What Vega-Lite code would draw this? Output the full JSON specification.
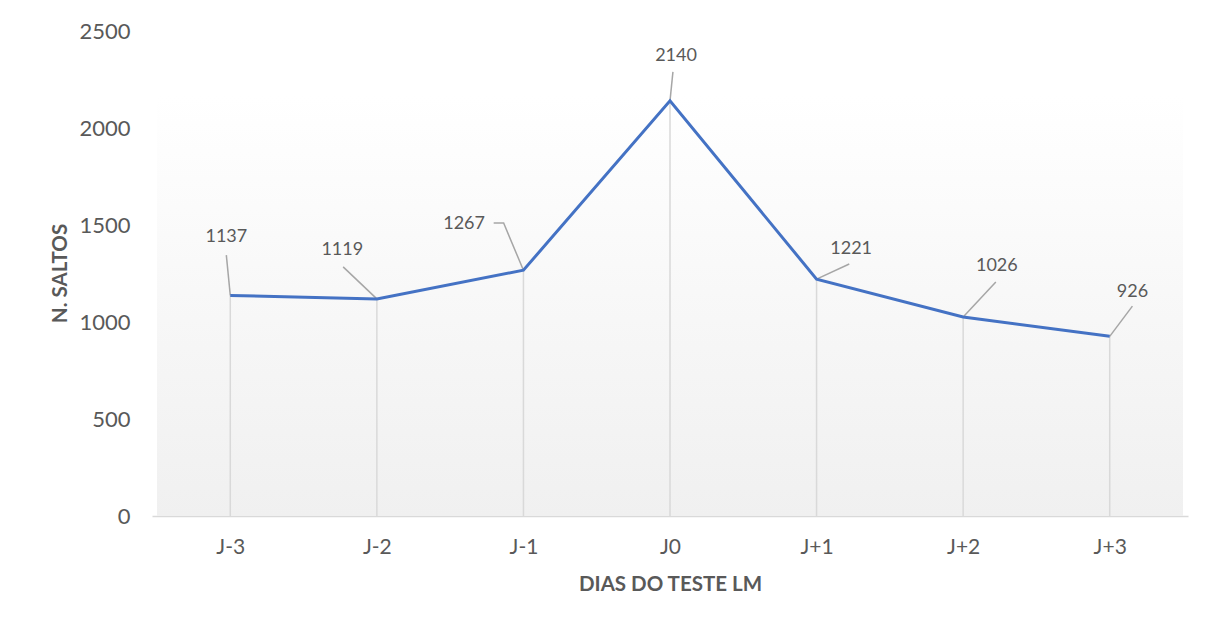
{
  "$schema": "https://vega.github.io/schema/vega-lite/v6.json",
  "autosize": "none",
  "width": 1036,
  "height": 485,
  "padding": {"left": 152, "top": 31, "right": 29, "bottom": 111},
  "background": "#ffffff",
  "config": {
    "view": {"stroke": null},
    "font": "Lato",
    "axis": {"grid": false, "ticks": false, "tickSize": 0, "labelFont": "Lato", "titleFont": "Lato", "labelColor": "#595959", "titleColor": "#595959"}
  },
  "datasets": {
    "main": [
      {"dia": "J-3", "idx": -3, "saltos": 1137},
      {"dia": "J-2", "idx": -2, "saltos": 1119},
      {"dia": "J-1", "idx": -1, "saltos": 1267},
      {"dia": "J0", "idx": 0, "saltos": 2140},
      {"dia": "J+1", "idx": 1, "saltos": 1221},
      {"dia": "J+2", "idx": 2, "saltos": 1026},
      {"dia": "J+3", "idx": 3, "saltos": 926}
    ],
    "labels": [
      {"txt": "1137", "lx": -3.027, "ly": 1438},
      {"txt": "1119", "lx": -2.236, "ly": 1371},
      {"txt": "1267", "lx": -1.405, "ly": 1505},
      {"txt": "2140", "lx": 0.041, "ly": 2371},
      {"txt": "1221", "lx": 1.236, "ly": 1376},
      {"txt": "1026", "lx": 2.230, "ly": 1289},
      {"txt": "926", "lx": 3.155, "ly": 1155}
    ],
    "leaders": [
      {"grp": "a", "ord": 1, "lx": -3.027, "ly": 1345},
      {"grp": "a", "ord": 2, "lx": -3.0, "ly": 1137},
      {"grp": "b", "ord": 1, "lx": -2.230, "ly": 1284},
      {"grp": "b", "ord": 2, "lx": -2.0, "ly": 1119},
      {"grp": "c", "ord": 1, "lx": -1.203, "ly": 1510},
      {"grp": "c", "ord": 2, "lx": -1.135, "ly": 1510},
      {"grp": "c", "ord": 3, "lx": -1.0, "ly": 1267},
      {"grp": "d", "ord": 1, "lx": 0.020, "ly": 2289},
      {"grp": "d", "ord": 2, "lx": 0.0, "ly": 2140},
      {"grp": "e", "ord": 1, "lx": 1.223, "ly": 1299},
      {"grp": "e", "ord": 2, "lx": 1.0, "ly": 1221},
      {"grp": "f", "ord": 1, "lx": 2.223, "ly": 1206},
      {"grp": "f", "ord": 2, "lx": 2.0, "ly": 1026},
      {"grp": "g", "ord": 1, "lx": 3.155, "ly": 1082},
      {"grp": "g", "ord": 2, "lx": 3.0, "ly": 926}
    ],
    "bg": [{"x0": -3.5, "x1": 3.5, "y0": 0, "y1": 2170}]
  },
  "layer": [
    {
      "data": {"name": "bg"},
      "mark": {
        "type": "rect",
        "color": {
          "gradient": "linear", "x1": 0, "y1": 0, "x2": 0, "y2": 1,
          "stops": [{"offset": 0, "color": "#ffffff"}, {"offset": 1, "color": "#f0f0f0"}]
        }
      },
      "encoding": {
        "x": {"field": "x0", "type": "quantitative", "scale": {"domain": [-3.5, 3.5], "nice": false, "zero": false},
          "axis": {
            "values": [-3, -2, -1, 0, 1, 2, 3],
            "labelExpr": "datum.value == 0 ? 'J0' : (datum.value < 0 ? 'J' + datum.value : 'J+' + datum.value)",
            "labelFontSize": 21, "labelPadding": 31, "labelBaseline": "middle",
            "domainColor": "#d9d9d9", "domainWidth": 1.5,
            "title": "DIAS DO TESTE LM", "titleFontSize": 20.5, "titleFontWeight": "bold",
            "titleY": 68, "titleBaseline": "middle"
          }
        },
        "x2": {"field": "x1"},
        "y": {"field": "y0", "type": "quantitative", "scale": {"domain": [0, 2500], "nice": false},
          "axis": {
            "values": [0, 500, 1000, 1500, 2000, 2500],
            "format": "d",
            "labelFontSize": 22, "labelPadding": 22, "labelBaseline": "middle",
            "domain": false,
            "title": "N. SALTOS", "titleFontSize": 20.5, "titleFontWeight": "bold",
            "titleX": -92, "titleY": 242, "titleBaseline": "middle", "titleAngle": -90
          }
        },
        "y2": {"field": "y1"}
      }
    },
    {
      "data": {"name": "main"},
      "mark": {"type": "bar", "color": "#d9d9d9", "size": 1.5},
      "encoding": {
        "x": {"field": "idx", "type": "quantitative"},
        "y": {"field": "saltos", "type": "quantitative"}
      }
    },
    {
      "data": {"name": "leaders"},
      "mark": {"type": "line", "color": "#a6a6a6", "strokeWidth": 1.5},
      "encoding": {
        "x": {"field": "lx", "type": "quantitative"},
        "y": {"field": "ly", "type": "quantitative"},
        "detail": {"field": "grp", "type": "nominal"},
        "order": {"field": "ord", "type": "quantitative"}
      }
    },
    {
      "data": {"name": "main"},
      "mark": {"type": "line", "color": "#4472c4", "strokeWidth": 3},
      "encoding": {
        "x": {"field": "idx", "type": "quantitative"},
        "y": {"field": "saltos", "type": "quantitative"}
      }
    },
    {
      "data": {"name": "labels"},
      "mark": {"type": "text", "fontSize": 18, "color": "#595959", "font": "Lato", "baseline": "middle", "align": "center"},
      "encoding": {
        "x": {"field": "lx", "type": "quantitative"},
        "y": {"field": "ly", "type": "quantitative"},
        "text": {"field": "txt", "type": "nominal"}
      }
    }
  ]
}
